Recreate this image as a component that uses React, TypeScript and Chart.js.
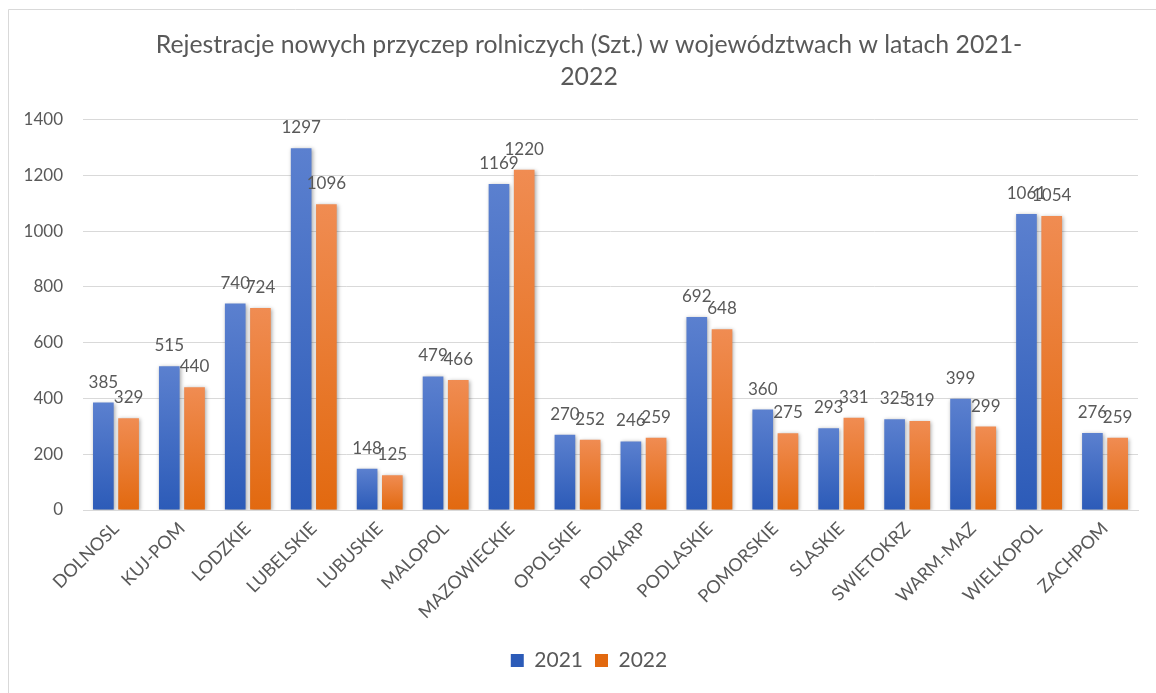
import React, { useEffect, useRef } from "react";
import { Chart, registerables } from "chart.js";

Chart.register(...registerables);

const categories = [
  "DOLNOSL", "KUJ-POM", "LODZKIE", "LUBELSKIE", "LUBUSKIE", "MALOPOL",
  "MAZOWIECKIE", "OPOLSKIE", "PODKARP", "PODLASKIE", "POMORSKIE", "SLASKIE",
  "SWIETOKRZ", "WARM-MAZ", "WIELKOPOL", "ZACHPOM",
];
const values2021 = [385, 515, 740, 1297, 148, 479, 1169, 270, 246, 692, 360, 293, 325, 399, 1061, 276];
const values2022 = [329, 440, 724, 1096, 125, 466, 1220, 252, 259, 648, 275, 331, 319, 299, 1054, 259];
const seriesLabels = ["2021", "2022"];
const titleLines = ["Rejestracje nowych przyczep rolniczych (Szt.) w województwach w latach 2021-", "2022"];

const FONT = "Lato, 'Open Sans', sans-serif";
const TEXT = "#595959";

function gradient(top: string, bottom: string, solid: string) {
  return (ctx: any) => {
    const chart = ctx.chart;
    if (!chart.chartArea || ctx.type !== "data") return solid;
    const ys = chart.scales.y;
    const y0 = ys.getPixelForValue(ctx.raw);
    const y1 = ys.getPixelForValue(0);
    if (!isFinite(y0) || !isFinite(y1) || y0 === y1) return solid;
    const g = chart.ctx.createLinearGradient(0, y0, 0, y1);
    g.addColorStop(0, top);
    g.addColorStop(1, bottom);
    return g;
  };
}

const framePlugin = {
  id: "frame",
  beforeDraw(chart: any) {
    const c = chart.ctx;
    c.save();
    c.fillStyle = "#ffffff";
    c.fillRect(0, 0, chart.width, chart.height);
    c.strokeStyle = "#d9d9d9";
    c.lineWidth = 1;
    c.beginPath();
    c.moveTo(8.5, chart.height);
    c.lineTo(8.5, 9.5);
    c.lineTo(chart.width, 9.5);
    c.stroke();
    c.restore();
  },
};

// Centre title and legend on the framed box (which starts 40px in from the left)
const centerPlugin = {
  id: "centerBoxes",
  afterLayout(chart: any) {
    [chart.titleBlock, chart.legend].forEach((b: any) => {
      if (b) b.left = 40;
    });
  },
};

const shadowPlugin = {
  id: "barShadow",
  beforeDatasetsDraw(chart: any) {
    const c = chart.ctx;
    c.save();
    c.shadowColor = "rgba(0,0,0,0.35)";
    c.shadowBlur = 4;
    c.shadowOffsetX = 1;
    c.shadowOffsetY = 1;
  },
  afterDatasetsDraw(chart: any) {
    chart.ctx.restore();
  },
};

const labelPlugin = {
  id: "valueLabels",
  afterDatasetsDraw(chart: any) {
    const c = chart.ctx;
    c.save();
    c.fillStyle = TEXT;
    c.font = `17px ${FONT}`;
    c.textAlign = "center";
    c.textBaseline = "alphabetic";
    chart.data.datasets.forEach((ds: any, i: number) => {
      const meta = chart.getDatasetMeta(i);
      meta.data.forEach((el: any, j: number) => {
        c.fillText(String(ds.data[j]), el.x, el.y - 15);
      });
    });
    c.restore();
  },
};

export default function App() {
  const ref = useRef<HTMLCanvasElement>(null);
  useEffect(() => {
    if (!ref.current) return;
    const chart = new Chart(ref.current, {
      type: "bar",
      data: {
        labels: categories,
        datasets: [
          {
            label: seriesLabels[0],
            data: values2021,
            backgroundColor: gradient("#5b80cf", "#2c5bb8", "#4472c4"),
            barPercentage: 0.82,
            categoryPercentage: 0.765,
          },
          {
            label: seriesLabels[1],
            data: values2022,
            backgroundColor: gradient("#f08c52", "#e2690f", "#ed7d31"),
            barPercentage: 0.82,
            categoryPercentage: 0.765,
          },
        ],
      },
      options: {
        animation: false,
        responsive: false,
        maintainAspectRatio: false,
        layout: { padding: { left: 0, right: 18, top: 0, bottom: 12 } },
        plugins: {
          title: {
            display: true,
            text: titleLines,
            color: TEXT,
            font: { family: FONT, size: 24.8, weight: "normal", lineHeight: 1.28 },
            padding: { top: 29, bottom: 27 },
          },
          legend: {
            position: "bottom",
            labels: {
              color: TEXT,
              font: { family: FONT, size: 21 },
              boxWidth: 13,
              boxHeight: 13,
              padding: 12,
            },
          },
          tooltip: { enabled: false },
        },
        scales: {
          x: {
            grid: { display: false, drawTicks: false },
            border: { display: true, color: "#d9d9d9" },
            ticks: {
              color: TEXT,
              font: { family: FONT, size: 18 },
              maxRotation: 45,
              minRotation: 45,
              padding: 8,
              autoSkip: false,
            },
            afterFit: (s: any) => { s.height = 128; },
          },
          y: {
            min: 0,
            max: 1400,
            grid: { color: "#d9d9d9", drawTicks: false },
            border: { display: false },
            ticks: {
              stepSize: 200,
              color: TEXT,
              font: { family: FONT, size: 17 },
              padding: 20,
              callback: (v: any) => String(v),
            },
            afterFit: (s: any) => { s.width = 83; },
          },
        },
      },
      plugins: [framePlugin, centerPlugin, shadowPlugin, labelPlugin],
    });
    return () => chart.destroy();
  }, []);
  return (
    <div style={{ position: "fixed", left: 0, top: 0, width: 1156, height: 693, background: "#fff" }}>
      <canvas ref={ref} width={1156} height={693} style={{ display: "block" }} />
    </div>
  );
}
